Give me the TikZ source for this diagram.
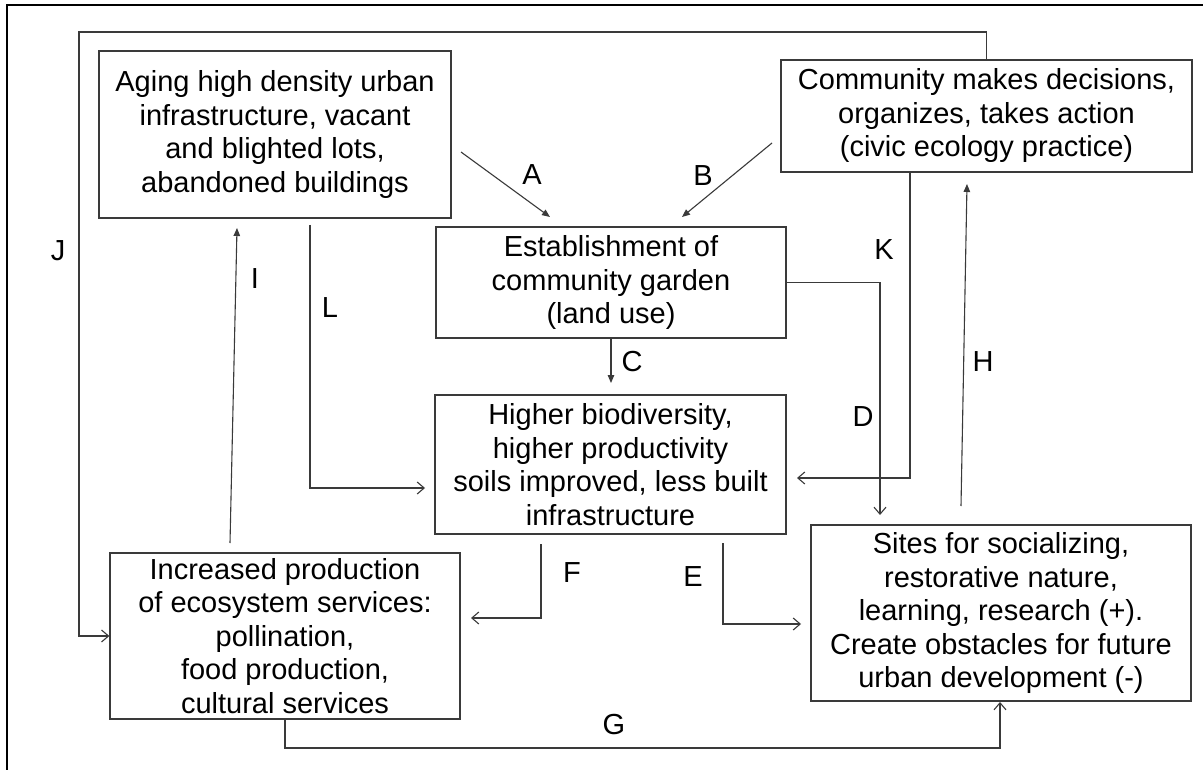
\documentclass[tikz,border=0pt]{standalone}
\usepackage{fontspec}
\setmainfont{Liberation Sans}
\usetikzlibrary{arrows.meta}
\definecolor{ln}{HTML}{3A3A3A}
\tikzset{
  box/.style={draw=ln, line width=1.3pt, rectangle, inner sep=0pt, align=center,
    font=\fontsize{29pt}{33.5pt}\selectfont, text=black},
  lbl/.style={inner sep=0pt, font=\fontsize{29pt}{33.5pt}\selectfont, text=black},
  conn/.style={draw=ln, line width=1.1pt},
  filarr/.style={conn, -{Triangle[length=8pt,width=6.5pt]}},
  openarr/.style={conn, -{Straight Barb[length=7pt,width=12pt,line width=1.1pt]}},
  frameline/.style={draw=black, line width=2.6pt}
}
\begin{document}
\begin{tikzpicture}[x=1pt,y=-1pt]
\useasboundingbox (0,0) rectangle (1203,770);
\fill[white] (0,0) rectangle (1203,770);
% outer frame (top and left edges visible)
\draw[frameline] (7,770) -- (7,5) -- (1203,5);

% boxes
\node[box, minimum width=352pt, minimum height=167pt] (aging) at (275,134.5)
  {Aging high density urban\\ infrastructure, vacant\\ and blighted lots,\\ abandoned buildings};
\node[box, minimum width=411pt, minimum height=112pt] (comm) at (986.5,116)
  {Community makes decisions,\\ organizes, takes action\\ (civic ecology practice)};
\node[box, minimum width=350pt, minimum height=111pt] (estab) at (611,282.5)
  {Establishment of\\ community garden\\ (land use)};
\node[box, minimum width=351pt, minimum height=139pt] (higher) at (610.5,464.5)
  {Higher biodiversity,\\ higher productivity\\ soils improved, less built\\ infrastructure};
\node[box, minimum width=350pt, minimum height=166pt] (incr) at (285,636)
  {Increased production\\ of ecosystem services:\\ pollination,\\ food production,\\ cultural services};
\node[box, minimum width=380pt, minimum height=176pt] (sites) at (1001,613)
  {Sites for socializing,\\ restorative nature,\\ learning, research (+).\\ Create obstacles for future\\ urban development (-)};

% routing coordinates
\coordinate (jTop) at (79,32);
\coordinate (aStart) at (461,152);
\coordinate (aEnd) at (550,217);
\coordinate (bStart) at (772,143);
\coordinate (bEnd) at (682,217);
\coordinate (cEnd) at (611,383);
\coordinate (dCol) at (880,515);
\coordinate (kTop) at (910,172);
\coordinate (kCol) at (910,478);
\coordinate (kTip) at (797,478);
\coordinate (hStart) at (961,506);
\coordinate (hEnd) at (967,184);
\coordinate (iStart) at (230,543);
\coordinate (iEnd) at (237,228);
\coordinate (lTop) at (310,225);
\coordinate (lCol) at (310,488);
\coordinate (lTip) at (425,488);
\coordinate (fTop) at (541,544);
\coordinate (fCol) at (541,618);
\coordinate (fTip) at (471,618);
\coordinate (eTop) at (723,543);
\coordinate (eCol) at (723,624);
\coordinate (eTip) at (801,624);
\coordinate (gRow) at (1000,748);
\coordinate (gTip) at (1000,702);

% connectors
\draw[openarr] (comm.north) |- (jTop) |- (incr.west);
\draw[filarr] (aStart) -- (aEnd);
\draw[filarr] (bStart) -- (bEnd);
\draw[filarr] (estab.south) -- (cEnd);
\draw[openarr] (estab.east) -| (dCol);
\draw[openarr] (kTop) -- (kCol) -- (kTip);
\draw[filarr] (hStart) -- (hEnd);
\draw[filarr] (iStart) -- (iEnd);
\draw[openarr] (lTop) -- (lCol) -- (lTip);
\draw[openarr] (fTop) -- (fCol) -- (fTip);
\draw[openarr] (eTop) -- (eCol) -- (eTip);
\draw[openarr] (incr.south) |- (gRow) -- (gTip);

% labels
\node[lbl] (labA) at (532,175) {A};
\node[lbl] (labB) at (703,176) {B};
\node[lbl] (labC) at (632,362) {C};
\node[lbl] (labD) at (863,417) {D};
\node[lbl] (labE) at (693,577) {E};
\node[lbl] (labF) at (572,573) {F};
\node[lbl] (labG) at (614,725) {G};
\node[lbl] (labH) at (983,362) {H};
\node[lbl] (labI) at (255,279) {I};
\node[lbl] (labJ) at (58,251) {J};
\node[lbl] (labK) at (884,250) {K};
\node[lbl] (labL) at (330,308) {L};
\end{tikzpicture}
\end{document}
